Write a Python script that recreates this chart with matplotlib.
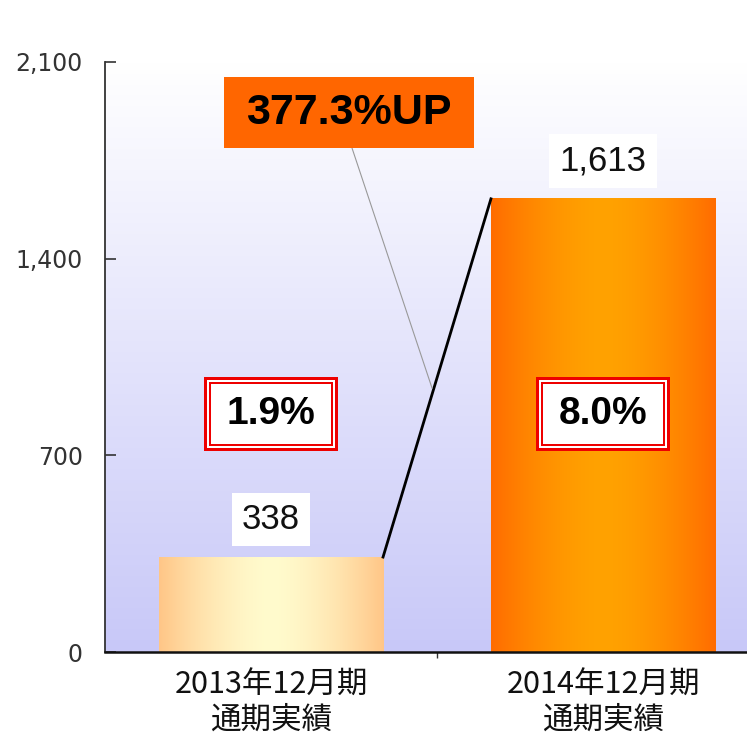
import numpy as np
import matplotlib
matplotlib.use("Agg")
import matplotlib.pyplot as plt
from matplotlib.patches import Rectangle

# ---- data ----
categories = ["2013年12月期\n通期実績", "2014年12月期\n通期実績"]
values = [338, 1613]
value_labels = ["338", "1,613"]
ratio_labels = ["1.9%", "8.0%"]
growth_label = "377.3%UP"
yticks = [0, 700, 1400, 2100]
ytick_labels = ["0", "700", "1,400", "2,100"]

W, H = 747, 738
fig = plt.figure(figsize=(W / 100, H / 100), dpi=100)
ax = fig.add_axes([105 / W, 1 - 652 / H, 664 / W, 590 / H])

x = np.arange(len(categories))
bw = 0.675

# px -> data scale
dxp = 1 / 332.0
dyp = 2100 / 590.0

# background gradient (white top -> lavender bottom)
g = np.linspace(0, 1, 256)[:, None]
top = np.array([1.0, 1.0, 1.0])
bot = np.array([200, 200, 248]) / 255
bg = top[None, None, :] * (1 - g[..., None]) + bot[None, None, :] * g[..., None]
ax.imshow(bg, extent=(-0.5, 1.5, 0, 2100), aspect="auto", zorder=0, origin="upper")

# bar gradients
u = np.linspace(0, 1, 256)
prof = 1 - np.abs(2 * u - 1) ** 1.6
bar_cols = [
    ((255, 198, 135), (255, 251, 205)),
    ((255, 108, 0), (255, 162, 0)),
]
for xi, v, (edge, mid) in zip(x, values, bar_cols):
    e = np.array(edge) / 255
    m = np.array(mid) / 255
    img = e[None, :] * (1 - prof[:, None]) + m[None, :] * prof[:, None]
    img = img[None, :, :]
    ax.imshow(img, extent=(xi - bw / 2, xi + bw / 2, 0, v), aspect="auto", zorder=2)
bars = ax.bar(x, values, width=bw, facecolor="none", edgecolor="none", zorder=3)
ax.set_xlim(-0.5, 1.5)
ax.set_ylim(0, 2100)

# connector line between bar tops
ax.plot([x[0] + bw / 2, x[1] - bw / 2], [values[0], values[1]], color="black", lw=2, zorder=4)

# value labels
for xi, v, lab in zip(x, values, value_labels):
    ax.annotate(lab, (xi, v), xytext=(0, 27), textcoords="offset points",
                ha="center", va="center", fontsize=25, family="Liberation Sans",
                color="#111111", zorder=6,
                bbox=dict(boxstyle="square,pad=0.3", fc="white", ec="none"))

# ratio boxes with double red border
yc = 847
hw, hh = 67 * dxp, 37 * dyp
for xi, lab in zip(x, ratio_labels):
    layers = [(0, "#ee0000"), (3, "white"), (5, "#ee0000"), (7, "white")]
    for inset, col in layers:
        ax.add_patch(Rectangle((xi - hw + inset * dxp, yc - hh + inset * dyp),
                               2 * hw - 2 * inset * dxp, 2 * hh - 2 * inset * dyp,
                               facecolor=col, edgecolor="none", zorder=5))
    ax.text(xi, yc, lab, ha="center", va="center", fontsize=28, fontweight="bold",
            family="Liberation Sans", color="black", zorder=6)

# growth callout
bx0, bx1 = (224 - 105) * dxp - 0.5, (474 - 105) * dxp - 0.5
by0, by1 = 2100 - (148 - 62) * dyp, 2100 - (77 - 62) * dyp
ax.plot([(352 - 105) * dxp - 0.5, (432 - 105) * dxp - 0.5],
        [by0, 2100 - (388 - 62) * dyp], color="#999999", lw=0.8, zorder=4)
ax.add_patch(Rectangle((bx0, by0), bx1 - bx0, by1 - by0, facecolor="#ff6600",
                       edgecolor="none", zorder=5))
ax.text((bx0 + bx1) / 2, (by0 + by1) / 2, growth_label, ha="center", va="center",
        fontsize=31, fontweight="bold", family="Liberation Sans", color="black", zorder=6)

# axes styling
for s in ["top", "right"]:
    ax.spines[s].set_visible(False)
ax.spines["left"].set_color("#333333")
ax.spines["left"].set_linewidth(1.3)
ax.spines["bottom"].set_color("#111111")
ax.spines["bottom"].set_linewidth(1.8)
ax.set_yticks(yticks)
ax.set_yticklabels(ytick_labels, fontsize=17, family="DejaVu Sans", color="#333333")
ax.tick_params(axis="y", direction="in", length=8, width=1.2, color="#333333", pad=16)
ax.set_xticks(x)
ax.set_xticklabels(categories, fontsize=22, family=["Noto Sans CJK JP", "DejaVu Sans"],
                   linespacing=1.15, color="#111111")
ax.tick_params(axis="x", length=0, pad=13)
ax.set_xticks([0.5], minor=True)
ax.tick_params(axis="x", which="minor", direction="out", length=4, width=1, color="#333333")

fig.savefig("out.png", dpi=100)
